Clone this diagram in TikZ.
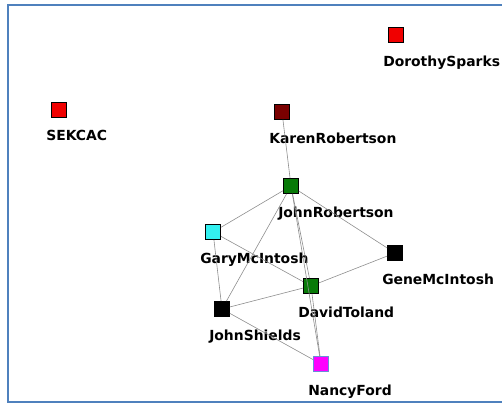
\documentclass[tikz,border=0pt]{standalone}
\usepackage{fontspec}
\setmainfont{DejaVu Sans}
\usepackage{tikz}
\definecolor{frameblue}{HTML}{4F81BD}
\definecolor{edge}{HTML}{8E8E8E}
\definecolor{vred}{HTML}{F00000}
\definecolor{vdark}{HTML}{7A0000}
\definecolor{vgreen}{HTML}{087A08}
\definecolor{vcyan}{HTML}{33F0F0}
\definecolor{vpink}{HTML}{FF00FF}
\definecolor{vblue}{HTML}{6A8CD8}

\begin{document}
\begin{tikzpicture}[
 x=1pt,y=-1pt,
 every label/.style={anchor=north west,inner sep=0pt,font=\bfseries\fontsize{13.9}{15}\selectfont,
 xshift=-5pt,yshift=-12.5pt},
 vbox/.style={draw=black,line width=.9pt,minimum size=15pt,inner sep=0pt},
 vred/.style={vbox,fill=vred},
 vdark/.style={vbox,fill=vdark},
 vgreen/.style={vbox,fill=vgreen},
 vcyan/.style={vbox,fill=vcyan},
 vblack/.style={vbox,fill=black},
 vpink/.style={vbox,fill=vpink,draw=vblue},
 tie/.style={draw=edge,line width=.6pt}]
\useasboundingbox (0,0) rectangle (502,403);
\draw[draw=frameblue,line width=2pt] (520,401.5) -- (7.5,401.5) -- (7.5,5) -- (520,5);
% actors
\node[vred,label={south west:DorothySparks}] (dorothy) at (396,35) {};
\node[vred,label={south west:SEKCAC}] (sekcac) at (59,110) {};
\node[vdark,label={south west:KarenRobertson}] (karen) at (282,112) {};
\node[vgreen,label={south west:JohnRobertson}] (johnr) at (291,186) {};
\node[vcyan,label={south west:GaryMcIntosh}] (gary) at (213,232) {};
\node[vblack,label={south west:GeneMcIntosh}] (gene) at (395,253) {};
\node[vgreen,label={south west:DavidToland}] (david) at (311,286) {};
\node[vblack,label={south west:JohnShields}] (johns) at (222,309) {};
\node[vpink,label={south west:NancyFord}] (nancy) at (321,364) {};
% ties
\draw[tie] (karen) -- (johnr);
\draw[tie] (johnr) -- (gary);
\draw[tie] (johnr) -- (johns);
\draw[tie] (johnr) -- (david);
\draw[tie] (johnr) -- (nancy);
\draw[tie] (johnr) -- (gene);
\draw[tie] (gary) -- (david);
\draw[tie] (gary) -- (johns);
\draw[tie] (johns) -- (david);
\draw[tie] (johns) -- (nancy);
\draw[tie] (david) -- (gene);
\draw[tie] (david) -- (nancy);
\end{tikzpicture}
\end{document}
